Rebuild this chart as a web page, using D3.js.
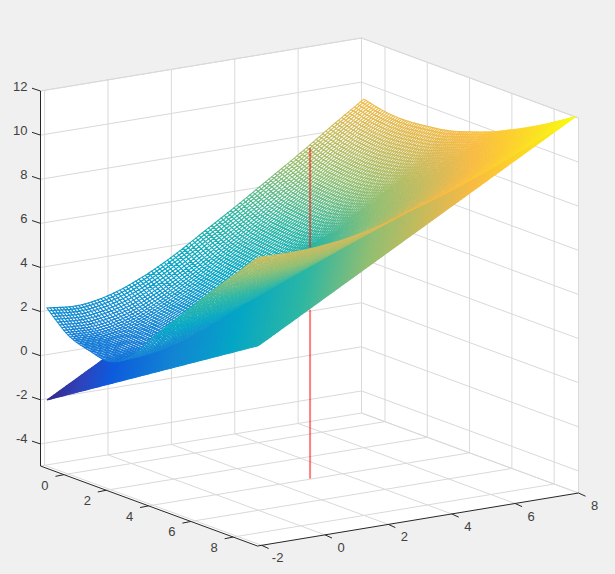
<!DOCTYPE html>
<html><head><meta charset="utf-8">
<style>html,body{margin:0;padding:0;background:#f0f0f0}svg{display:block}text{font-family:"Liberation Sans",Arial,sans-serif;font-size:13px;fill:#404040}</style>
<script src="https://cdn.jsdelivr.net/npm/d3@7"></script></head><body><div id="c"></div>
<script>
const xTicks=[-2,0,2,4,6,8], yTicks=[0,2,4,6,8], zTicks=[-4,-2,0,2,4,6,8,10,12];
const xKnots=[-2,-1,0,1,2,3,4,5,6,7,8];
const yKnots=[-1,0,1,2,3,4,5,6,7,8,9];
const upperZ=[
[2.17,2.05,2.30,2.85,3.60,4.50,5.40,6.35,7.30,8.30,9.27],
[1.30,1.29,1.62,2.23,3.03,3.99,4.94,5.95,6.96,8.02,9.05],
[0.95,1.00,1.37,2.01,2.84,3.82,4.78,5.81,6.85,7.93,9.00],
[0.80,0.92,1.33,1.99,2.83,3.83,4.80,5.85,6.90,8.01,9.10],
[1.40,1.52,1.90,2.51,3.30,4.24,5.15,6.14,7.15,8.21,9.25],
[2.60,2.66,2.97,3.48,4.17,5.01,5.83,6.72,7.63,8.60,9.55],
[3.70,3.73,3.97,4.41,5.01,5.77,6.50,7.30,8.14,9.02,9.90],
[4.80,4.81,5.00,5.37,5.90,6.58,7.23,7.96,8.73,9.54,10.35],
[5.90,5.89,6.04,6.34,6.80,7.42,7.99,8.65,9.35,10.11,10.85],
[6.95,6.92,7.03,7.28,7.69,8.24,8.75,9.35,10.00,10.70,11.40],
[8.00,7.97,8.05,8.25,8.60,9.10,9.55,10.10,10.70,11.35,12.00]];
const lowerXKnots=[-2,3,8], lowerYKnots=[-1,4,9];
const lowerZ=[[-2,2,6],[1,5,9],[4,8,12]];
const redSegments=[{x:3,y:3.95,z:[-5,2.66]},{x:3,y:3.95,z:[5.48,10]}];
const parulaPos=[0,0.0625,0.125,0.25,0.375,0.5,0.625,0.75,0.8125,0.875,1];
const parulaStops=["#352a87","#3243ba","#0f5cdd","#1485d4","#06a7c6","#2eb7a4","#92bf73","#d9ba56","#f8bb44","#fccd2e","#f9fb0e"];
const W=615,H=574;
const xDom=[-2.13,8], yDom=[-1.11,9.15], zDom=[-5,12];
const sxX=d3.scaleLinear().domain(xDom).range([0,321]);
const syX=d3.scaleLinear().domain(xDom).range([0,-53]);
const sxY=d3.scaleLinear().domain(yDom).range([0,217]);
const syY=d3.scaleLinear().domain(yDom).range([0,80]);
const syZ=d3.scaleLinear().domain(zDom).range([0,-375]);
const P=(x,y,z)=>[40.5+sxX(x)+sxY(y),466+syX(x)+syY(y)+syZ(z)];
const color=d3.scaleLinear().domain(parulaPos.map(p=>-2+14*p)).range(parulaStops).clamp(true);
function cr(v,u){const n=v.length-1;let f=Math.max(0,Math.min(n,u));let i=Math.min(n-1,Math.floor(f));const t=f-i;
 const b=v[i],c=v[i+1],a=i>0?v[i-1]:2*b-c,d=i+2<=n?v[i+2]:2*c-b;
 return b+.5*t*(c-a+t*(2*a-5*b+4*c-d+t*(3*(b-c)+d-a)));}
function sampler(table,xk,yk){const ux=d3.scaleLinear().domain(d3.extent(xk)).range([0,xk.length-1]),uy=d3.scaleLinear().domain(d3.extent(yk)).range([0,yk.length-1]);
 return (x,y)=>cr(table.map(r=>cr(r,ux(x))),uy(y));}
const upper=sampler(upperZ,xKnots,yKnots),lower=sampler(lowerZ,lowerXKnots,lowerYKnots);
const N=100;
const gx=d3.range(N+1).map(i=>-2+10*i/N),gy=d3.range(N+1).map(i=>-1+10*i/N);
const cells=[];
[upper,lower].forEach((f,sheet)=>{
 const Z=gy.map(y=>gx.map(x=>f(x,y)));
 for(let j=0;j<N;j++)for(let i=0;i<N;i++){
  const c=[[gx[i],gy[j],Z[j][i]],[gx[i+1],gy[j],Z[j][i+1]],[gx[i+1],gy[j+1],Z[j+1][i+1]],[gx[i],gy[j+1],Z[j+1][i]]];
  const mx=d3.mean(c,d=>d[0]),my=d3.mean(c,d=>d[1]),mz=d3.mean(c,d=>d[2]);
  cells.push({c,sheet,z:mz,depth:-21.14*mx+31.7*my+16.15*mz});
 }});
cells.sort((a,b)=>a.depth-b.depth);
const svg=d3.select("#c").append("svg").attr("width",W).attr("height",H);
svg.append("rect").attr("width",W).attr("height",H).attr("fill","#f0f0f0");
const [x0,x1]=xDom,[y0,y1]=yDom,[z0,z1]=zDom;
svg.append("polygon").attr("fill","#fff").attr("points",[P(x0,y0,z1),P(x1,y0,z1),P(x1,y1,z1),P(x1,y1,z0),P(x0,y1,z0),P(x0,y0,z0)].join(" "));
const grid=svg.append("g").attr("fill","none").attr("stroke","#d9d9d9").attr("stroke-width",1);
const seg=(g,pts)=>{const p=d3.path();pts.forEach((q,i)=>i?p.lineTo(q[0],q[1]):p.moveTo(q[0],q[1]));return g.append("path").attr("d",p.toString());};
xTicks.forEach(x=>{seg(grid,[P(x,y0,z1),P(x,y0,z0),P(x,y1,z0)]);});
yTicks.forEach(y=>{seg(grid,[P(x0,y,z0),P(x1,y,z0),P(x1,y,z1)]);});
zTicks.forEach(z=>{seg(grid,[P(x0,y0,z),P(x1,y0,z),P(x1,y1,z)]);});
seg(grid,[P(x0,y0,z1),P(x1,y0,z1),P(x1,y1,z1),P(x1,y1,z0)]);
seg(grid,[P(x1,y0,z1),P(x1,y0,z0)]);seg(grid,[P(x0,y0,z0),P(x1,y0,z0),P(x1,y1,z0)]);
svg.append("g").selectAll("path").data(cells).join("path")
 .attr("d",d=>{const p=d3.path();d.c.forEach((q,i)=>{const s=P(q[0],q[1],q[2]);i?p.lineTo(s[0],s[1]):p.moveTo(s[0],s[1]);});p.closePath();return p.toString();})
 .attr("fill",d=>d.sheet?color(d.z):"#fff").attr("stroke",d=>color(d.z)).attr("stroke-width",1.05);
const red=svg.append("g").attr("fill","none").attr("stroke","#ff0000").attr("stroke-opacity",0.5).attr("stroke-width",2);
redSegments.forEach(s=>seg(red,[P(s.x,s.y,s.z[0]),P(s.x,s.y,s.z[1])]));
const ax=svg.append("g").attr("fill","none").attr("stroke","#262626").attr("stroke-width",1);
seg(ax,[P(x0,y0,z1),P(x0,y0,z0),P(x0,y1,z0),P(x1,y1,z0)]);
const lab=svg.append("g");
zTicks.forEach(z=>{const q=P(x0,y0,z);seg(ax,[q,[q[0]-8.5,q[1]-2.8]]);
 lab.append("text").attr("x",q[0]-13).attr("y",q[1]-5).attr("dy","0.35em").attr("text-anchor","end").text(z);});
yTicks.forEach(y=>{const q=P(x0,y,z0);seg(ax,[q,[q[0]-8.5,q[1]+1.7]]);
 lab.append("text").attr("x",q[0]-19).attr("y",q[1]+10.5).attr("dy","0.35em").attr("text-anchor","middle").text(y);});
xTicks.forEach(x=>{const q=P(x,y1,z0);seg(ax,[q,[q[0]+7,q[1]+3.2]]);
 lab.append("text").attr("x",q[0]+16).attr("y",q[1]+12.5).attr("dy","0.35em").attr("text-anchor","middle").text(x);});
</script></body></html>
